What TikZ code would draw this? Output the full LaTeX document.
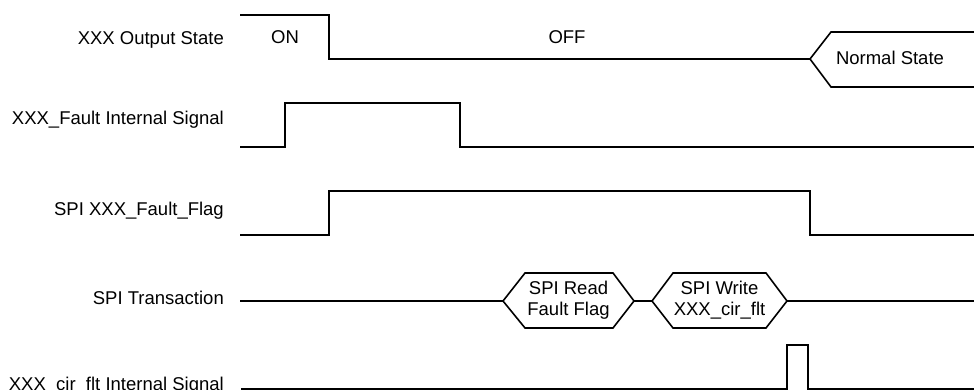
\documentclass[tikz,border=0pt]{standalone}
\usepackage{fontspec}
\setmainfont{Liberation Sans}
\begin{document}
\begin{tikzpicture}[x=1pt,y=-1pt,
  wave/.style={line width=1.6pt, line join=miter},
  lbl/.style={anchor=base east, inner sep=0pt, font=\fontsize{18.5}{21}\selectfont},
  txt/.style={inner sep=0pt, font=\fontsize{18.5}{21}\selectfont, align=center}]
\useasboundingbox (0,0) rectangle (974,390);
% row labels
\node[lbl] (l1) at (224,45) {XXX Output State};
\node[lbl] (l2) at (224,125) {XXX\_Fault Internal Signal};
\node[lbl] (l3) at (224,215) {SPI XXX\_Fault\_Flag};
\node[lbl] (l4) at (224,304) {SPI Transaction};
\node[lbl] (l5) at (224,390) {XXX\_cir\_flt Internal Signal};
% row 1
\draw[wave] (240,15) -- (329,15) -- (329,59) -- (810,59);
\draw[wave] (976,32) -- (831,32) -- (810,59) -- (831,87) -- (976,87);
\node[txt, anchor=base] (on) at (285,44) {ON};
\node[txt, anchor=base] (off) at (567,44) {OFF};
\node[txt, anchor=base] (norm) at (890,65) {Normal State};
% row 2
\draw[wave] (240,147) -- (285,147) -- (285,103) -- (460,103) -- (460,147) -- (976,147);
% row 3
\draw[wave] (240,235) -- (329,235) -- (329,191) -- (810,191) -- (810,235) -- (976,235);
% row 4
\draw[wave] (240,301) -- (503,301);
\draw[wave] (503,301) -- (525,273) -- (613,273) -- (634,301) -- (613,328) -- (525,328) -- cycle;
\draw[wave] (634,301) -- (652,301);
\draw[wave] (652,301) -- (673,273) -- (766,273) -- (787,301) -- (766,328) -- (673,328) -- cycle;
\draw[wave] (787,301) -- (976,301);
\node[txt] (rd) at (568.5,300) {SPI Read\\Fault Flag};
\node[txt] (wr) at (719.5,300) {SPI Write\\XXX\_cir\_flt};
% row 5
\draw[wave] (241,389) -- (787,389) -- (787,345) -- (808,345) -- (808,389) -- (976,389);
\end{tikzpicture}
\end{document}
